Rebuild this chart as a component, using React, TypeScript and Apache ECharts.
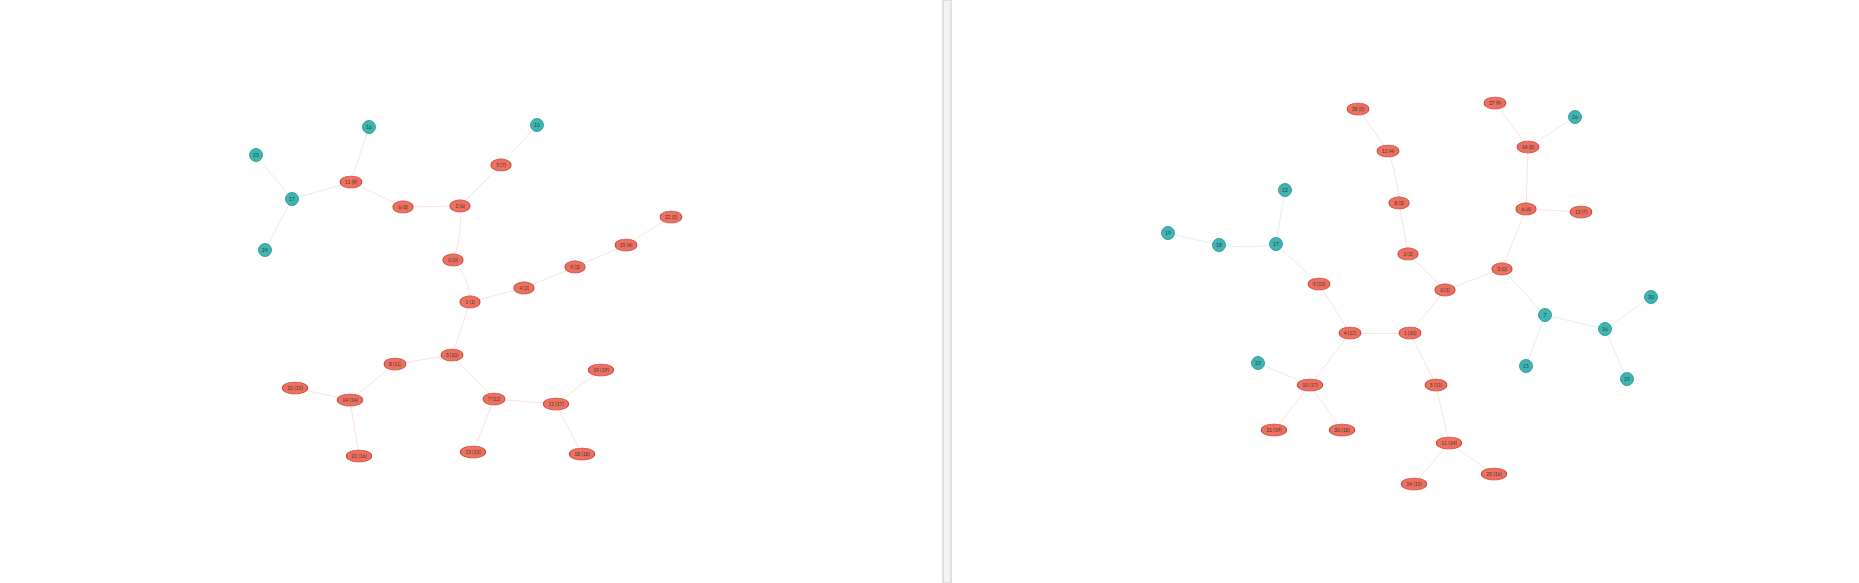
import { useRef, useEffect } from "react";
import * as echarts from "echarts";

// [label, x, y, kind]  kind: 0 = red (ranked), 1 = teal
type N = [string, number, number, number];

const leftNodes: N[] = [
  ["16", 369, 127, 1], ["10", 537, 125, 1], ["23", 256, 155, 1], ["11 (9)", 351, 182, 0],
  ["17", 292, 199, 1], ["5 (7)", 501, 165, 0], ["6 (8)", 403, 207, 0], ["2 (6)", 460, 206, 0],
  ["22 (5)", 671, 217, 0], ["15 (4)", 626, 245, 0], ["24", 265, 250, 1], ["0 (0)", 453, 260, 0],
  ["9 (3)", 575, 267, 0], ["4 (2)", 524, 288, 0], ["1 (1)", 470, 302, 0], ["3 (10)", 452, 355, 0],
  ["8 (11)", 395, 364, 0], ["20 (15)", 295, 388, 0], ["14 (14)", 350, 400, 0], ["7 (12)", 494, 399, 0],
  ["12 (17)", 556, 404, 0], ["19 (19)", 601, 370, 0], ["21 (16)", 359, 456, 0], ["13 (13)", 473, 452, 0],
  ["18 (18)", 582, 454, 0],
];
const leftEdges: [string, string, number?][] = [
  ["17", "23"], ["17", "24"], ["17", "11 (9)"], ["11 (9)", "16"], ["11 (9)", "6 (8)"],
  ["6 (8)", "2 (6)"], ["2 (6)", "5 (7)"], ["5 (7)", "10"], ["2 (6)", "0 (0)", 0.12], ["0 (0)", "1 (1)", 0.2],
  ["1 (1)", "4 (2)"], ["4 (2)", "9 (3)"], ["9 (3)", "15 (4)"], ["15 (4)", "22 (5)"], ["1 (1)", "3 (10)"],
  ["3 (10)", "8 (11)"], ["8 (11)", "14 (14)"], ["14 (14)", "20 (15)"], ["14 (14)", "21 (16)"],
  ["3 (10)", "7 (12)"], ["7 (12)", "13 (13)"], ["7 (12)", "12 (17)"], ["12 (17)", "19 (19)"], ["12 (17)", "18 (18)"],
];

const rightNodes: N[] = [
  ["28 (5)", 1358, 109, 0], ["27 (9)", 1495, 103, 0], ["26", 1575, 117, 1], ["12 (4)", 1388, 151, 0],
  ["14 (8)", 1528, 147, 0], ["22", 1285, 190, 1], ["8 (3)", 1399, 203, 0], ["6 (6)", 1526, 209, 0],
  ["13 (7)", 1581, 212, 0], ["19", 1168, 233, 1], ["18", 1219, 245, 1], ["17", 1276, 244, 1],
  ["2 (2)", 1408, 254, 0], ["3 (0)", 1502, 269, 0], ["9 (13)", 1319, 284, 0], ["0 (1)", 1445, 290, 0],
  ["4 (12)", 1350, 333, 0], ["1 (10)", 1410, 333, 0], ["7", 1545, 315, 1], ["16", 1605, 329, 1],
  ["23", 1258, 363, 1], ["15", 1526, 366, 1], ["29", 1627, 379, 1], ["10 (17)", 1310, 385, 0],
  ["5 (11)", 1436, 385, 0], ["21 (19)", 1274, 430, 0], ["20 (18)", 1342, 430, 0], ["11 (14)", 1449, 443, 0],
  ["25 (16)", 1494, 474, 0], ["24 (15)", 1414, 484, 0], ["30", 1651, 297, 1],
];
const rightEdges: [string, string, number?][] = [
  ["28 (5)", "12 (4)"], ["12 (4)", "8 (3)", 0.08], ["8 (3)", "2 (2)"], ["2 (2)", "0 (1)"], ["0 (1)", "3 (0)"],
  ["0 (1)", "1 (10)"], ["3 (0)", "6 (6)"], ["6 (6)", "14 (8)"], ["14 (8)", "27 (9)"], ["14 (8)", "26"],
  ["6 (6)", "13 (7)"], ["3 (0)", "7"], ["7", "15"], ["7", "16"], ["16", "30"], ["16", "29"],
  ["1 (10)", "4 (12)"], ["4 (12)", "9 (13)"], ["9 (13)", "17"], ["17", "22"], ["17", "18", 0.08], ["18", "19"],
  ["4 (12)", "10 (17)"], ["10 (17)", "23"], ["10 (17)", "21 (19)"], ["10 (17)", "20 (18)"],
  ["1 (10)", "5 (11)"], ["5 (11)", "11 (14)"], ["11 (14)", "24 (15)"], ["11 (14)", "25 (16)"],
];

function buildNodes(prefix: string, list: N[]) {
  return list.map(([label, x, y, kind]) => ({
    id: prefix + label,
    name: label,
    x,
    y,
    symbolSize: kind === 1 ? [13, 13] : [Math.max(20, label.length * 3.6), 12],
    itemStyle: kind === 1
      ? { color: "#3db5b2", borderColor: "#2b8f8c", borderWidth: 0.8 }
      : { color: "#f07060", borderColor: "#c2453a", borderWidth: 0.8 },
  }));
}

function buildLinks(prefix: string, list: [string, string, number?][], nodes: N[]) {
  const teal = new Set(nodes.filter((n) => n[3] === 1).map((n) => n[0]));
  return list.map(([s, t, c]) => ({
    source: prefix + s,
    target: prefix + t,
    lineStyle: {
      color: teal.has(s) || teal.has(t) ? "#b5e3e2" : "#f8c4bd",
      width: 1,
      curveness: c ?? 0,
    },
  }));
}

export default function App() {
  const ref = useRef<HTMLDivElement>(null);

  useEffect(() => {
    if (!ref.current) return;
    const chart = echarts.init(ref.current, undefined, { renderer: "svg" });
    const all = [...leftNodes, ...rightNodes];
    const xs = all.map((n) => n[1]);
    const ys = all.map((n) => n[2]);
    const minX = Math.min(...xs), maxX = Math.max(...xs);
    const minY = Math.min(...ys), maxY = Math.max(...ys);
    chart.setOption({
      animation: false,
      backgroundColor: "#fff",
      graphic: [
        { type: "rect", shape: { x: 943, y: 0, width: 8, height: 583 }, style: { fill: "#f3f3f3", stroke: "#c8c8c8", lineWidth: 1 } },
      ],
      series: [
        {
          type: "graph",
          layout: "none",
          left: minX,
          top: minY,
          width: maxX - minX,
          height: maxY - minY,
          roam: false,
          symbol: "circle",
          label: { show: true, fontSize: 5, color: "#3a3a3a", fontFamily: "Lato" },
          data: [...buildNodes("L", leftNodes), ...buildNodes("R", rightNodes)],
          links: [...buildLinks("L", leftEdges, leftNodes), ...buildLinks("R", rightEdges, rightNodes)],
          emphasis: { disabled: true },
        },
      ],
    });
    return () => chart.dispose();
  }, []);

  return <div ref={ref} style={{ position: "fixed", left: 0, top: 0, width: 1859, height: 583 }} />;
}
